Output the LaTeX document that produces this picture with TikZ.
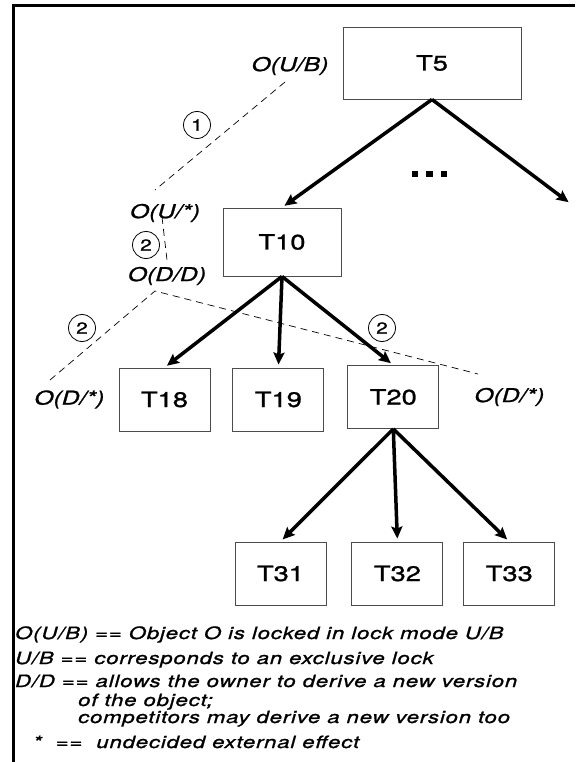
\documentclass[tikz,border=0pt]{standalone}
\usepackage{fontspec}
\setmainfont{TeX Gyre Heros}[FakeStretch=1.3, FakeBold=1.2]
\newfontfamily\legendfont{TeX Gyre Heros}[FakeStretch=1.3, FakeBold=1.2, LetterSpace=5]
\usepackage{tikz}
\usetikzlibrary{positioning, arrows.meta, calc}

\begin{document}
\begin{tikzpicture}[x=1pt, y=-1pt,
	tbox/.style={draw=black!70, fill=white, line width=0.9pt, inner sep=0pt,
		minimum width=91pt, minimum height=63pt, font=\fontsize{21}{21}\selectfont},
	lock/.style={inner sep=0pt, font=\fontsize{19}{19}\selectfont\itshape},
	num/.style={draw, circle, line width=0.8pt, minimum size=27pt, inner sep=0pt,
		font=\fontsize{16}{16}\selectfont},
	trans/.style={-{Stealth[length=12pt, width=11pt, inset=2pt]}, line width=3.5pt, shorten >=3pt},
	hint/.style={dash pattern=on 7pt off 5pt, line width=0.7pt},
	legend/.style={anchor=base west, inner sep=0pt, font=\legendfont\fontsize{17}{17}\selectfont\itshape}]
		\useasboundingbox (0,0) rectangle (575,762);
		\draw[line width=2.5pt] (575,5.5) -- (13.5,5.5) -- (13.5,762);
		
		\node[tbox, minimum width=178pt, minimum height=72pt] (t5) at (432,63) {T5};
		\node[tbox, minimum width=118pt, minimum height=68pt] (t10) at (282,242) {T10};
		\node[tbox] (t18) at (164.5,399.5) {T18};
		\node[tbox, right=22pt of t18] (t19) {T19};
		\node[tbox, right=23pt of t19, yshift=2.5pt] (t20) {T20};
		\node[tbox] (t31) at (280.5,573.5) {T31};
		\node[tbox, right=25pt of t31] (t32) {T32};
		\node[tbox, right=20pt of t32] (t33) {\raisebox{-3pt}{T33}};
		\coordinate (more) at (571,204);
		
		\draw[trans] (t5.south) -- (t10.north);
		\draw[trans] (t5.south) -- (more);
		\draw[trans] (t10.south) -- (t18.north);
		\draw[trans] (t10.south) -- (t19.north);
		\draw[trans] (t10.south) -- (t20.north);
		\draw[trans] (t20.south) -- (t31.north);
		\draw[trans] (t20.south) -- (t32.north);
		\draw[trans] (t20.south) -- (t33.north);
		\foreach \i in {0,1,2}
			\fill (415+14.5*\i,174) +(-3.2,-3.2) rectangle +(3.2,3.2);
		
		\node[lock] (ub) at (290,66) {O(U/B)};
		\node[lock] (uany) at (165,213) {O(U/*)};
		\node[lock] (dd) at (167,276) {O(D/D)};
		\node[lock, left=14pt of t18] (dleft) {O(D/*)};
		\node[lock, right=35pt of t20] (dright) {O(D/*)};
		
		\node[num] (n1) at (197,125) {1};
		\node[num] (n2) at (146,245) {2};
		\node[num] (n3) at (82,328) {2};
		\node[num] (n4) at (382,328) {2};
		
		\coordinate (ubfoot) at (285,82);
		\coordinate (uanytop) at (155,190);
		\coordinate (uanyfoot) at (162,217);
		\coordinate (ddtop) at (167,260);
		\coordinate (ddfoot) at (155,291);
		\coordinate (dlefttop) at (50,380);
		\coordinate (drighttop) at (478,374);
		\draw[hint] (ubfoot) -- (uanytop);
		\draw[hint] (uanyfoot) -- (ddtop);
		\draw[hint] (dlefttop) -- (ddfoot) -- (drighttop);
		
		\node[legend] (l1) at (15,639) {O(U/B) == Object O is locked in lock mode U/B};
		\node[legend] (l2) at (15,664) {U/B == corresponds to an exclusive lock};
		\node[legend] (l3) at (15,687) {D/D == allows the owner to derive a new version};
		\node[legend] (l4) at (78,706) {of the object;};
		\node[legend] (l5) at (78,723) {competitors may derive a new version too};
		\node[legend] (l6) at (33,748) {*\ \ ==\ \ undecided external effect};
	\end{tikzpicture}
\end{document}
